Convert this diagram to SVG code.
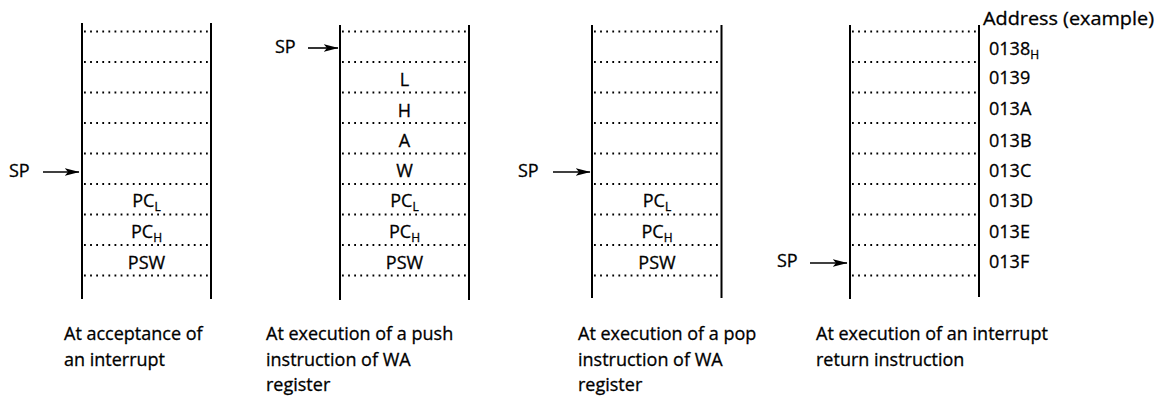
<svg xmlns="http://www.w3.org/2000/svg" width="1164" height="396" viewBox="0 0 1164 396">
<defs>
<style>
text{font-family:"Open Sans","Noto Sans","Liberation Sans",sans-serif;font-size:18px;fill:#000;stroke:#000;stroke-width:0.3}
.c{text-anchor:middle}
.sub{font-size:12px}
.wall{stroke:#000;stroke-width:2;fill:none}
.dot{stroke:#000;stroke-width:1.8;stroke-dasharray:1.8 4.3;fill:none}
.arr{stroke:#000;stroke-width:1.6;fill:none;marker-end:url(#ah)}
</style>
<marker id="ah" viewBox="0 0 15 8" refX="14.5" refY="4" markerUnits="userSpaceOnUse" markerWidth="15" markerHeight="8" orient="auto">
<path d="M0,0 L15,4 L0,8 L3.5,4 Z" fill="#000"/>
</marker>
</defs>
<rect width="1164" height="396" fill="#fff"/>

<g id="stack1">
<line class="wall" x1="82" y1="23" x2="82" y2="299"/>
<line class="wall" x1="211" y1="23" x2="211" y2="299"/>
<path class="dot" d="M84,31.5H210M84,62H210M84,92.5H210M84,123H210M84,153.5H210M84,184H210M84,214.5H210M84,245H210M84,275.5H210"/>
<text class="c" x="146.5" y="207">PC<tspan class="sub" dy="4">L</tspan></text>
<text class="c" x="146.5" y="238">PC<tspan class="sub" dy="4">H</tspan></text>
<text class="c" x="146.5" y="269">PSW</text>
<text x="9" y="177">SP</text>
<text x="64" y="340">At acceptance of</text>
<text x="64" y="366">an interrupt</text>
</g>

<g id="stack2">
<line class="wall" x1="340" y1="25" x2="340" y2="300"/>
<line class="wall" x1="469" y1="25" x2="469" y2="300"/>
<path class="dot" d="M342,31.5H468M342,62H468M342,92.5H470M342,123H468M342,153.5H468M342,184H468M342,214.5H468M342,245H468M342,275.5H468"/>
<text class="c" x="404.5" y="86">L</text>
<text class="c" x="404.5" y="117">H</text>
<text class="c" x="404.5" y="147">A</text>
<text class="c" x="404.5" y="177">W</text>
<text class="c" x="404.5" y="207">PC<tspan class="sub" dy="4">L</tspan></text>
<text class="c" x="404.5" y="238">PC<tspan class="sub" dy="4">H</tspan></text>
<text class="c" x="404.5" y="269">PSW</text>
<text x="275" y="53">SP</text>
<text x="266" y="340">At execution of a push</text>
<text x="266" y="366">instruction of WA</text>
<text x="266" y="391">register</text>
</g>

<g id="stack3">
<line class="wall" x1="592" y1="25" x2="592" y2="298"/>
<line class="wall" x1="721.5" y1="25" x2="721.5" y2="298"/>
<path class="dot" d="M594,31.5H720M594,62H720M594,92.5H720M594,123H720M594,153.5H720M594,184H720M594,214.5H720M594,245H720M594,275.5H720"/>
<text class="c" x="657" y="207">PC<tspan class="sub" dy="4">L</tspan></text>
<text class="c" x="657" y="238">PC<tspan class="sub" dy="4">H</tspan></text>
<text class="c" x="657" y="269">PSW</text>
<text x="518" y="177">SP</text>
<text x="578" y="340">At execution of a pop</text>
<text x="578" y="366">instruction of WA</text>
<text x="578" y="391">register</text>
</g>

<g id="stack4">
<line class="wall" x1="850" y1="25" x2="850" y2="299"/>
<line class="wall" x1="979" y1="25" x2="979" y2="297"/>
<path class="dot" d="M852,31.5H978M852,62H978M852,92.5H978M852,123H978M852,153.5H978M852,184H978M852,214.5H978M852,245H978M852,275.5H978"/>
<text x="777" y="267">SP</text>
<text x="983" y="25" style="font-size:19px" textLength="171" lengthAdjust="spacingAndGlyphs">Address (example)</text>
<text x="989" y="55">0138<tspan class="sub" dy="4">H</tspan></text>
<text x="989" y="84">0139</text>
<text x="989" y="115">013A</text>
<text x="989" y="147">013B</text>
<text x="989" y="177">013C</text>
<text x="989" y="207">013D</text>
<text x="989" y="238">013E</text>
<text x="989" y="268">013F</text>
<text x="816" y="340">At execution of an interrupt</text>
<text x="816" y="366">return instruction</text>
</g>

<g id="connectors">
<line class="arr" x1="43" y1="172" x2="79" y2="172"/>
<line class="arr" x1="308" y1="48" x2="338" y2="48"/>
<line class="arr" x1="553" y1="172" x2="590" y2="172"/>
<line class="arr" x1="810" y1="263" x2="847" y2="263"/>
</g>
</svg>
